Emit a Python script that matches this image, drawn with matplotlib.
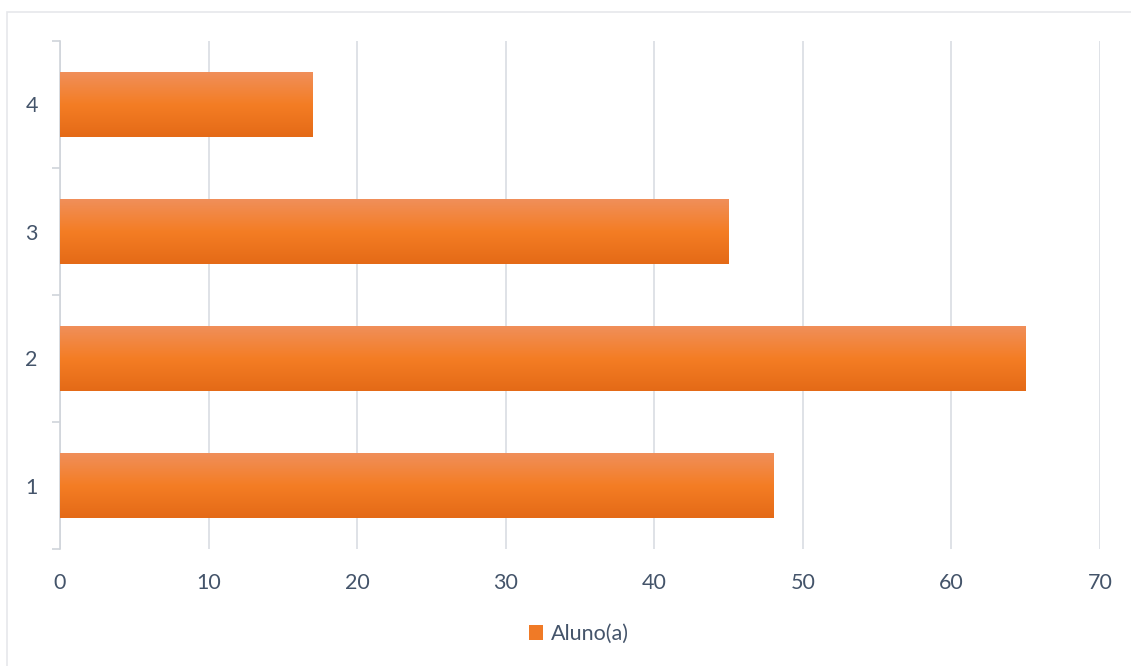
import numpy as np
import matplotlib.pyplot as plt
from matplotlib.colors import LinearSegmentedColormap
from matplotlib.patches import Rectangle, Patch
from matplotlib.ticker import FixedLocator, NullFormatter

categories = ['1', '2', '3', '4']
values = [48, 65, 45, 17]
series_name = 'Aluno(a)'
x_ticks = [0, 10, 20, 30, 40, 50, 60, 70]

plt.rcParams['font.family'] = ['Lato', 'DejaVu Sans']
text_col = '#44546A'
grid_col = '#D9DDE3'

fig = plt.figure(figsize=(11.31, 6.66), dpi=100)
ax = fig.add_axes([60 / 1131, 117 / 666, 1040 / 1131, 508 / 666])

pos = np.arange(len(categories))
bars = ax.barh(pos, values, height=0.51, color='#F47B20', zorder=2)

# vertical gradient like the Excel fill
grad = LinearSegmentedColormap.from_list('g', ['#E46A17', '#F47D24', '#F08F5A'])
img = np.linspace(0, 1, 256).reshape(-1, 1)
for b in bars:
    x0, y0 = b.get_x(), b.get_y()
    w, h = b.get_width(), b.get_height()
    ax.imshow(img, cmap=grad, aspect='auto', origin='lower',
              extent=(x0, x0 + w, y0, y0 + h), zorder=3)
    b.set_visible(False)

ax.set_xlim(0, 70)
ax.set_ylim(-0.5, len(categories) - 0.5)
ax.set_xticks(x_ticks)
ax.grid(axis='x', color=grid_col, linewidth=1.2, zorder=0)
ax.set_axisbelow(True)

# category labels at centers, tick marks at boundaries
ax.yaxis.set_major_locator(FixedLocator(np.arange(-0.5, len(categories), 1.0)))
ax.yaxis.set_major_formatter(NullFormatter())
ax.yaxis.set_minor_locator(FixedLocator(pos))
ax.set_yticklabels(categories, minor=True)
ax.tick_params(axis='y', which='major', length=6, color='#D0D4DA', width=1.2)
ax.tick_params(axis='y', which='minor', length=0, pad=16, labelsize=15.5, labelcolor=text_col)
ax.tick_params(axis='x', length=0, pad=17, labelsize=15.5, labelcolor=text_col)

for s in ['top', 'right', 'bottom']:
    ax.spines[s].set_visible(False)
ax.spines['left'].set_color('#D0D4DA')
ax.spines['left'].set_linewidth(1.2)

ax.set_xlim(0, 70)

leg = fig.legend(handles=[Patch(facecolor='#F07A26', label=series_name)],
                 loc='center', bbox_to_anchor=(579 / 1131, 1 - 634 / 666),
                 frameon=False, fontsize=15.5, handlelength=0.65, handleheight=0.65,
                 handletextpad=0.4)
for t in leg.get_texts():
    t.set_color(text_col)

fig.patches.append(Rectangle((7 / 1131, -0.01), 1.2, 1 - 12 / 666 + 0.01,
                             transform=fig.transFigure, fill=False,
                             edgecolor='#E6E8EB', linewidth=1.2))

fig.savefig('out.png', dpi=100)
